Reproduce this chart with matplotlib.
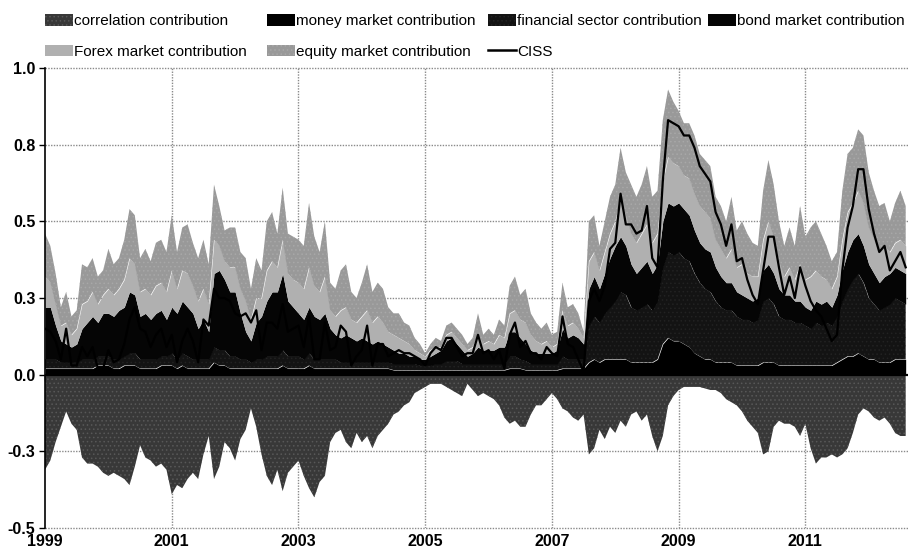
import matplotlib

matplotlib.use("Agg")
import matplotlib.pyplot as plt
import numpy as np
from matplotlib.lines import Line2D
from matplotlib.patches import Patch

plt.rcParams["font.family"] = ["Liberation Sans", "DejaVu Sans"]
plt.rcParams["hatch.linewidth"] = 0.6

# Monthly CISS decomposition, Jan 1999 - Aug 2012
START_YEAR = 1999

correlation = [
    -0.31, -0.28, -0.22, -0.17, -0.12, -0.16, -0.18, -0.27, -0.29, -0.29, -0.30, -0.32,
    -0.33, -0.32, -0.33, -0.34, -0.36, -0.30, -0.23, -0.27, -0.28, -0.30, -0.29, -0.31,
    -0.39, -0.36, -0.37, -0.34, -0.32, -0.34, -0.26, -0.20, -0.34, -0.30, -0.22, -0.24,
    -0.28, -0.21, -0.18, -0.11, -0.17, -0.26, -0.33, -0.36, -0.31, -0.38, -0.32, -0.30,
    -0.28, -0.33, -0.37, -0.40, -0.35, -0.33, -0.22, -0.19, -0.18, -0.22, -0.24, -0.19,
    -0.22, -0.20, -0.24, -0.20, -0.18, -0.16, -0.13, -0.12, -0.10, -0.09, -0.06, -0.05,
    -0.04, -0.03, -0.03, -0.03, -0.04, -0.05, -0.06, -0.07, -0.03, -0.05, -0.07, -0.06,
    -0.07, -0.08, -0.10, -0.14, -0.16, -0.15, -0.17, -0.17, -0.13, -0.10, -0.10, -0.08,
    -0.06, -0.08, -0.11, -0.12, -0.14, -0.15, -0.13, -0.26, -0.24, -0.18, -0.21, -0.17,
    -0.19, -0.15, -0.17, -0.13, -0.12, -0.15, -0.13, -0.20, -0.25, -0.20, -0.10, -0.07,
    -0.05, -0.04, -0.04, -0.04, -0.04, -0.045, -0.05, -0.05, -0.06, -0.08, -0.09, -0.10,
    -0.12, -0.15, -0.17, -0.19, -0.26, -0.25, -0.17, -0.15, -0.16, -0.16, -0.17, -0.20,
    -0.16, -0.24, -0.29, -0.27, -0.27, -0.26, -0.27, -0.26, -0.24, -0.19, -0.13, -0.11,
    -0.12, -0.14, -0.15, -0.14, -0.16, -0.19, -0.20, -0.20,
]

money_market = [
    0.02, 0.02, 0.02, 0.02, 0.02, 0.02, 0.02, 0.02, 0.02, 0.02, 0.03, 0.03,
    0.03, 0.02, 0.02, 0.03, 0.03, 0.03, 0.02, 0.02, 0.02, 0.02, 0.03, 0.03,
    0.03, 0.02, 0.03, 0.02, 0.02, 0.02, 0.02, 0.02, 0.04, 0.03, 0.03, 0.02,
    0.02, 0.02, 0.02, 0.02, 0.02, 0.02, 0.02, 0.02, 0.02, 0.03, 0.02, 0.02,
    0.02, 0.02, 0.03, 0.02, 0.02, 0.02, 0.02, 0.02, 0.02, 0.02, 0.02, 0.02,
    0.02, 0.02, 0.02, 0.02, 0.02, 0.02, 0.015, 0.015, 0.015, 0.015, 0.015, 0.015,
    0.015, 0.015, 0.015, 0.015, 0.015, 0.015, 0.015, 0.015, 0.015, 0.015, 0.015, 0.015,
    0.015, 0.015, 0.015, 0.015, 0.02, 0.02, 0.02, 0.015, 0.015, 0.015, 0.015, 0.015,
    0.015, 0.015, 0.02, 0.02, 0.02, 0.02, 0.02, 0.04, 0.05, 0.04, 0.05, 0.05,
    0.05, 0.05, 0.05, 0.04, 0.04, 0.04, 0.04, 0.04, 0.05, 0.10, 0.12, 0.11,
    0.11, 0.10, 0.09, 0.07, 0.06, 0.05, 0.05, 0.04, 0.04, 0.04, 0.04, 0.03,
    0.03, 0.03, 0.03, 0.03, 0.04, 0.04, 0.04, 0.03, 0.03, 0.03, 0.03, 0.03,
    0.03, 0.03, 0.03, 0.03, 0.03, 0.03, 0.04, 0.05, 0.06, 0.06, 0.07, 0.06,
    0.05, 0.05, 0.04, 0.04, 0.04, 0.05, 0.05, 0.05,
]

financial_sector = [
    0.03, 0.03, 0.03, 0.02, 0.02, 0.02, 0.02, 0.03, 0.03, 0.03, 0.03, 0.03,
    0.03, 0.03, 0.03, 0.03, 0.04, 0.04, 0.03, 0.03, 0.03, 0.03, 0.03, 0.03,
    0.04, 0.03, 0.04, 0.04, 0.03, 0.03, 0.03, 0.03, 0.05, 0.05, 0.05, 0.04,
    0.04, 0.03, 0.03, 0.02, 0.03, 0.03, 0.04, 0.04, 0.04, 0.05, 0.04, 0.04,
    0.04, 0.03, 0.04, 0.03, 0.03, 0.03, 0.03, 0.03, 0.02, 0.02, 0.02, 0.02,
    0.02, 0.02, 0.02, 0.02, 0.02, 0.02, 0.02, 0.02, 0.02, 0.02, 0.02, 0.015,
    0.015, 0.015, 0.02, 0.02, 0.03, 0.03, 0.03, 0.02, 0.02, 0.02, 0.02, 0.02,
    0.02, 0.02, 0.02, 0.02, 0.04, 0.04, 0.03, 0.03, 0.02, 0.02, 0.02, 0.02,
    0.02, 0.02, 0.04, 0.03, 0.03, 0.03, 0.03, 0.12, 0.14, 0.13, 0.15, 0.17,
    0.19, 0.22, 0.21, 0.18, 0.17, 0.18, 0.19, 0.17, 0.19, 0.25, 0.28, 0.28,
    0.29, 0.28, 0.28, 0.26, 0.24, 0.23, 0.22, 0.20, 0.18, 0.17, 0.17, 0.16,
    0.15, 0.15, 0.14, 0.15, 0.20, 0.21, 0.19, 0.16, 0.15, 0.15, 0.14, 0.14,
    0.13, 0.12, 0.14, 0.13, 0.14, 0.13, 0.15, 0.19, 0.22, 0.25, 0.26, 0.24,
    0.20, 0.18, 0.17, 0.18, 0.19, 0.20, 0.19, 0.18,
]

bond_market = [
    0.17, 0.17, 0.11, 0.07, 0.06, 0.05, 0.06, 0.10, 0.12, 0.14, 0.11, 0.14,
    0.14, 0.14, 0.16, 0.16, 0.20, 0.19, 0.14, 0.15, 0.13, 0.15, 0.15, 0.12,
    0.15, 0.15, 0.17, 0.16, 0.15, 0.10, 0.13, 0.09, 0.24, 0.26, 0.23, 0.21,
    0.21, 0.15, 0.09, 0.07, 0.12, 0.14, 0.18, 0.21, 0.21, 0.25, 0.18, 0.16,
    0.14, 0.13, 0.15, 0.14, 0.13, 0.15, 0.10, 0.08, 0.08, 0.09, 0.08, 0.07,
    0.08, 0.07, 0.06, 0.07, 0.06, 0.05, 0.045, 0.035, 0.035, 0.025, 0.025, 0.02,
    0.02, 0.03, 0.035, 0.045, 0.065, 0.075, 0.055, 0.045, 0.025, 0.035, 0.055, 0.045,
    0.045, 0.045, 0.055, 0.055, 0.08, 0.08, 0.07, 0.055, 0.045, 0.035, 0.035, 0.035,
    0.035, 0.045, 0.09, 0.07, 0.08, 0.07, 0.05, 0.12, 0.13, 0.11, 0.13, 0.16,
    0.18, 0.18, 0.16, 0.14, 0.12, 0.13, 0.14, 0.12, 0.12, 0.15, 0.16, 0.16,
    0.16, 0.16, 0.15, 0.14, 0.13, 0.13, 0.13, 0.11, 0.10, 0.09, 0.09, 0.08,
    0.08, 0.07, 0.07, 0.07, 0.10, 0.11, 0.10, 0.09, 0.08, 0.08, 0.07, 0.07,
    0.06, 0.06, 0.07, 0.07, 0.07, 0.06, 0.07, 0.10, 0.12, 0.13, 0.13, 0.12,
    0.11, 0.10, 0.09, 0.10, 0.10, 0.10, 0.10, 0.10,
]

forex_market = [
    0.10, 0.08, 0.07, 0.05, 0.07, 0.04, 0.05, 0.08, 0.07, 0.08, 0.06, 0.06,
    0.08, 0.07, 0.07, 0.09, 0.11, 0.10, 0.08, 0.08, 0.08, 0.09, 0.09, 0.09,
    0.12, 0.08, 0.10, 0.11, 0.09, 0.09, 0.10, 0.09, 0.11, 0.08, 0.06, 0.08,
    0.08, 0.08, 0.10, 0.07, 0.08, 0.06, 0.10, 0.10, 0.08, 0.11, 0.09, 0.09,
    0.10, 0.10, 0.13, 0.10, 0.09, 0.12, 0.06, 0.06, 0.09, 0.09, 0.06, 0.06,
    0.07, 0.10, 0.07, 0.08, 0.07, 0.05, 0.05, 0.05, 0.04, 0.04, 0.02, 0.02,
    0.01, 0.02, 0.02, 0.01, 0.02, 0.02, 0.02, 0.02, 0.02, 0.02, 0.04, 0.02,
    0.03, 0.02, 0.04, 0.03, 0.06, 0.07, 0.06, 0.07, 0.05, 0.04, 0.03, 0.04,
    0.02, 0.02, 0.06, 0.04, 0.04, 0.03, 0.02, 0.09, 0.08, 0.06, 0.07, 0.08,
    0.08, 0.12, 0.10, 0.10, 0.10, 0.11, 0.12, 0.10, 0.10, 0.13, 0.15, 0.14,
    0.12, 0.11, 0.12, 0.12, 0.12, 0.12, 0.11, 0.09, 0.09, 0.08, 0.11, 0.08,
    0.10, 0.08, 0.08, 0.07, 0.10, 0.14, 0.12, 0.09, 0.06, 0.09, 0.07, 0.12,
    0.09, 0.11, 0.10, 0.09, 0.07, 0.06, 0.06, 0.10, 0.13, 0.12, 0.14, 0.14,
    0.12, 0.11, 0.10, 0.10, 0.07, 0.08, 0.10, 0.09,
]

equity_market = [
    0.14, 0.12, 0.10, 0.06, 0.10, 0.06, 0.06, 0.13, 0.11, 0.11, 0.09, 0.08,
    0.13, 0.10, 0.10, 0.13, 0.16, 0.16, 0.11, 0.13, 0.11, 0.14, 0.14, 0.13,
    0.18, 0.12, 0.14, 0.16, 0.14, 0.14, 0.16, 0.13, 0.18, 0.13, 0.10, 0.13,
    0.13, 0.12, 0.14, 0.10, 0.13, 0.09, 0.16, 0.16, 0.11, 0.17, 0.13, 0.14,
    0.14, 0.14, 0.21, 0.16, 0.13, 0.18, 0.09, 0.09, 0.13, 0.14, 0.09, 0.08,
    0.11, 0.15, 0.10, 0.11, 0.11, 0.08, 0.07, 0.08, 0.06, 0.06, 0.04, 0.03,
    0.01, 0.02, 0.03, 0.02, 0.03, 0.03, 0.03, 0.03, 0.02, 0.03, 0.07, 0.03,
    0.04, 0.03, 0.05, 0.04, 0.09, 0.11, 0.08, 0.11, 0.07, 0.06, 0.05, 0.06,
    0.04, 0.04, 0.09, 0.06, 0.06, 0.05, 0.02, 0.13, 0.12, 0.08, 0.10, 0.12,
    0.12, 0.17, 0.14, 0.16, 0.15, 0.16, 0.19, 0.15, 0.14, 0.20, 0.22, 0.20,
    0.18, 0.17, 0.18, 0.19, 0.17, 0.17, 0.17, 0.14, 0.14, 0.12, 0.17, 0.12,
    0.14, 0.13, 0.11, 0.10, 0.16, 0.20, 0.17, 0.13, 0.10, 0.13, 0.11, 0.19,
    0.14, 0.16, 0.16, 0.14, 0.11, 0.09, 0.08, 0.16, 0.19, 0.18, 0.20, 0.22,
    0.18, 0.16, 0.15, 0.14, 0.10, 0.13, 0.16, 0.13,
]

YEAR_TICKS = [1999, 2001, 2003, 2005, 2007, 2009, 2011]
Y_TICKS = [-0.5, -0.25, 0.0, 0.25, 0.5, 0.75, 1.0]
Y_TICK_LABELS = ["-0.5", "-0.3", "0.0", "0.3", "0.5", "0.8", "1.0"]

# (label, values, facecolor, hatch, hatch colour) in stacking order
POSITIVE = [
    ("money market contribution", money_market, "#000000", None, None),
    ("financial sector contribution", financial_sector, "#131313", "....", "#222222"),
    ("bond market contribution", bond_market, "#050505", None, None),
    ("Forex market contribution", forex_market, "#b0b0b0", None, None),
    ("equity market contribution", equity_market, "#999999", "....", "#a8a8a8"),
]
CORR_STYLE = ("correlation contribution", "#383838", "....", "#585858")

# legend columns: entries per column and left edge in figure fraction
LEGEND_COLUMNS = [
    (["correlation contribution", "Forex market contribution"], 0.0496),
    (["money market contribution", "equity market contribution"], 0.294),
    (["financial sector contribution", "CISS"], 0.5375),
    (["bond market contribution"], 0.7795),
]


def main():
    n = len(correlation)
    x = START_YEAR + np.arange(n) / 12.0

    fig = plt.figure(figsize=(9.08, 5.52), dpi=100)
    ax = fig.add_axes([0.0496, 0.0435, 0.9504, 0.8333])

    base = np.zeros(n)
    handles = {}
    for label, vals, color, hatch, hcol in POSITIVE:
        top = base + np.asarray(vals)
        ax.fill_between(x, base, top, facecolor=color, hatch=hatch,
                        edgecolor=hcol if hcol else color, linewidth=0, zorder=2)
        handles[label] = Patch(facecolor=color, hatch=hatch,
                               edgecolor=hcol if hcol else color, linewidth=0)
        base = top

    corr = np.asarray(correlation)
    clabel, ccolor, chatch, chcol = CORR_STYLE
    ax.fill_between(x, corr, 0, facecolor=ccolor, hatch=chatch, edgecolor=chcol,
                    linewidth=0, zorder=2)
    handles[clabel] = Patch(facecolor=ccolor, hatch=chatch, edgecolor=chcol, linewidth=0)

    ciss = base + corr
    ax.plot(x, ciss, color="black", linewidth=1.6, zorder=4)
    handles["CISS"] = Line2D([], [], color="black", linewidth=1.8)

    ax.set_xlim(START_YEAR, 2012.62)
    ax.set_ylim(-0.5, 1.0)

    # grid
    ax.set_axisbelow(True)
    for yv in Y_TICKS:
        if yv != 0:
            ax.axhline(yv, color="#8a8a8a", linestyle=(0, (1, 1)), linewidth=1.0,
                       zorder=1, clip_on=False)
    for xv in YEAR_TICKS[1:]:
        ax.axvline(xv, color="#8a8a8a", linestyle=(0, (1, 1)), linewidth=1.0, zorder=1)
    ax.axhline(0, color="black", linewidth=1.6, zorder=3)

    for side in ("top", "right", "bottom"):
        ax.spines[side].set_visible(False)
    ax.spines["left"].set_linewidth(1.2)
    ax.spines["left"].set_zorder(5)

    ax.set_yticks(Y_TICKS)
    ax.set_yticklabels(Y_TICK_LABELS, fontsize=11.5, fontweight="bold")
    ax.tick_params(axis="y", length=4, width=1, pad=3)

    ax.set_xticks(YEAR_TICKS)
    ax.set_xticklabels([str(y) for y in YEAR_TICKS], fontsize=11.5, fontweight="bold")
    ax.tick_params(axis="x", length=0, pad=4)

    # yearly ticks along the zero line
    zero_axis = ax.secondary_xaxis(1.0 / 3.0)
    zero_axis.set_xticks(list(range(1999, 2013)))
    zero_axis.set_xticklabels([])
    zero_axis.tick_params(length=4, width=1, direction="out")
    zero_axis.spines["bottom"].set_visible(False)

    for labels, left in LEGEND_COLUMNS:
        fig.legend([handles[k] for k in labels], labels, loc="upper left",
                   bbox_to_anchor=(left, 0.974), frameon=False, fontsize=11,
                   handlelength=1.85, handleheight=0.75, handletextpad=0.05,
                   labelspacing=1.08, borderaxespad=0, borderpad=0)

    fig.savefig("out.png", dpi=100)
    plt.close(fig)


if __name__ == "__main__":
    main()
